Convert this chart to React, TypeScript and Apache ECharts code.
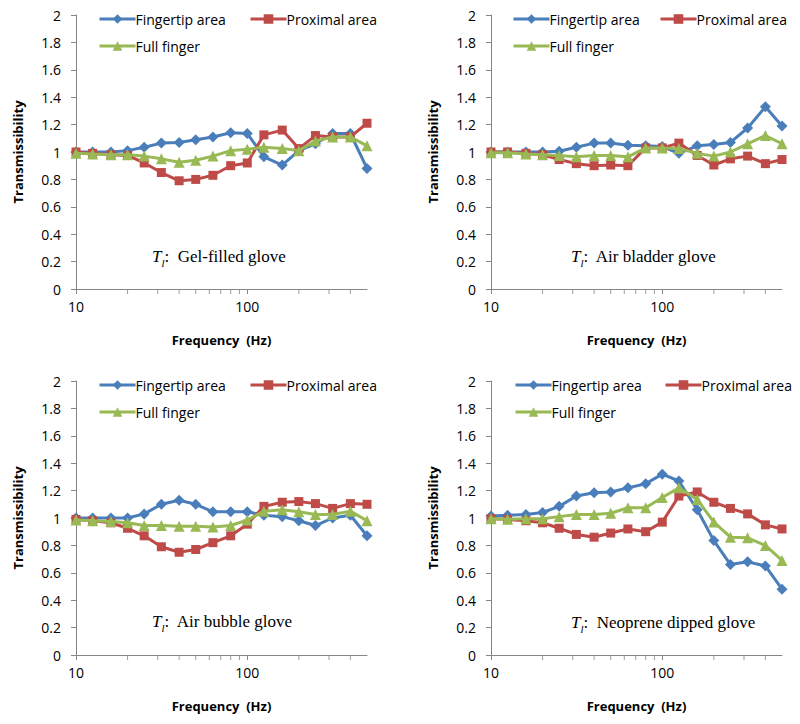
import React, { useEffect, useRef } from 'react';
import * as echarts from 'echarts';

const freqs = [10, 12.5, 16, 20, 25, 31.5, 40, 50, 63, 80, 100, 125, 160, 200, 250, 315, 400, 500];
const minorTickFreqs = [20, 30, 40, 50, 60, 70, 80, 90, 200, 300, 400];
const seriesNames = ['Fingertip area', 'Proximal area', 'Full finger'];
const gloveNames = ['Gel-filled glove', 'Air bladder glove', 'Air bubble glove', 'Neoprene dipped glove'];
const yTicks = [0, 0.2, 0.4, 0.6, 0.8, 1, 1.2, 1.4, 1.6, 1.8, 2];

const gelFingertip = [1.0, 1.0, 1.0, 1.01, 1.035, 1.065, 1.07, 1.09, 1.11, 1.14, 1.135, 0.965, 0.905, 1.01, 1.06, 1.135, 1.135, 0.88];
const gelProximal = [1.0, 0.99, 0.98, 0.975, 0.92, 0.85, 0.79, 0.8, 0.83, 0.9, 0.92, 1.125, 1.16, 1.025, 1.12, 1.11, 1.11, 1.21];
const gelFull = [0.99, 0.985, 0.98, 0.98, 0.97, 0.95, 0.925, 0.94, 0.97, 1.01, 1.02, 1.035, 1.025, 1.01, 1.08, 1.11, 1.11, 1.045];

const bladderFingertip = [1.0, 1.0, 1.0, 1.0, 1.005, 1.035, 1.065, 1.065, 1.05, 1.045, 1.04, 0.99, 1.045, 1.055, 1.07, 1.175, 1.33, 1.19];
const bladderProximal = [1.0, 1.0, 0.99, 0.98, 0.945, 0.915, 0.9, 0.905, 0.9, 1.03, 1.03, 1.065, 0.975, 0.905, 0.95, 0.97, 0.915, 0.945];
const bladderFull = [0.995, 0.995, 0.985, 0.98, 0.975, 0.965, 0.975, 0.975, 0.965, 1.03, 1.03, 1.025, 0.99, 0.97, 1.0, 1.06, 1.12, 1.06];

const bubbleFingertip = [1.0, 1.0, 1.0, 1.0, 1.03, 1.1, 1.13, 1.1, 1.045, 1.045, 1.045, 1.02, 1.01, 0.98, 0.945, 1.0, 1.02, 0.87];
const bubbleProximal = [0.99, 0.98, 0.965, 0.925, 0.87, 0.79, 0.75, 0.77, 0.82, 0.87, 0.955, 1.085, 1.115, 1.12, 1.105, 1.07, 1.105, 1.1];
const bubbleFull = [0.985, 0.98, 0.975, 0.965, 0.945, 0.945, 0.94, 0.94, 0.935, 0.945, 0.985, 1.05, 1.06, 1.045, 1.025, 1.025, 1.05, 0.98];

const neopreneFingertip = [1.015, 1.02, 1.025, 1.04, 1.085, 1.16, 1.185, 1.19, 1.22, 1.25, 1.32, 1.27, 1.06, 0.835, 0.66, 0.68, 0.65, 0.48];
const neopreneProximal = [0.995, 0.99, 0.98, 0.965, 0.925, 0.88, 0.86, 0.89, 0.92, 0.9, 0.97, 1.16, 1.19, 1.115, 1.07, 1.03, 0.95, 0.92];
const neopreneFull = [0.995, 0.99, 0.995, 0.995, 1.01, 1.025, 1.025, 1.035, 1.075, 1.075, 1.15, 1.22, 1.135, 0.97, 0.86, 0.855, 0.8, 0.69];

const panelData = [
  [gelFingertip, gelProximal, gelFull],
  [bladderFingertip, bladderProximal, bladderFull],
  [bubbleFingertip, bubbleProximal, bubbleFull],
  [neopreneFingertip, neopreneProximal, neopreneFull],
];

const colors = ['#4A7EBB', '#BE4B48', '#98B954'];
const symbols = ['diamond', 'rect', 'triangle'];
const symbolSizes = [11, 9, 11];

const grids = [
  { left: 76, top: 15, width: 291, height: 274 },
  { left: 491, top: 15, width: 291, height: 274 },
  { left: 76, top: 381, width: 291, height: 274 },
  { left: 491, top: 381, width: 291, height: 274 },
];
const legendPos = [
  [[98, 20], [249, 20], [98, 47]],
  [[512, 20], [659, 20], [512, 47]],
  [[98, 386], [249, 386], [98, 413]],
  [[514, 386], [664, 386], [514, 413]],
];
const notePos = [[152, 256], [571, 256], [152, 621], [571, 622]];

const AXIS_COLOR = '#868686';
const SANS = 'Open Sans';

export default function App() {
  const ref = useRef<HTMLDivElement>(null);
  useEffect(() => {
    if (!ref.current) return;
    const chart = echarts.init(ref.current, null, { renderer: 'svg' });
    const xAxis: any[] = [];
    const yAxis: any[] = [];
    const series: any[] = [];
    const legend: any[] = [];
    const graphic: any[] = [];
    grids.forEach((g, i) => {
      xAxis.push({
        type: 'log',
        logBase: 10,
        gridIndex: i,
        min: 10,
        max: 500,
        name: 'Frequency  (Hz)',
        nameLocation: 'middle',
        nameGap: 44,
        nameTextStyle: { fontFamily: SANS, fontWeight: 'bold', fontSize: 13, color: '#000' },
        axisLine: { lineStyle: { color: AXIS_COLOR, width: 1 } },
        axisTick: { show: true, length: 5, lineStyle: { color: AXIS_COLOR } },
        axisLabel: { showMaxLabel: false, margin: 10, fontFamily: SANS, fontSize: 14, color: '#000' },
        splitLine: { show: false },
      });
      yAxis.push({
        type: 'value',
        gridIndex: i,
        min: yTicks[0],
        max: yTicks[yTicks.length - 1],
        interval: 0.2,
        name: 'Transmissibility',
        nameLocation: 'middle',
        nameGap: 52,
        nameTextStyle: { fontFamily: SANS, fontWeight: 'bold', fontSize: 13, color: '#000' },
        axisLine: { show: true, lineStyle: { color: AXIS_COLOR, width: 1 } },
        axisTick: { show: true, length: 5, lineStyle: { color: AXIS_COLOR } },
        axisLabel: { margin: 15, fontFamily: SANS, fontSize: 14, color: '#000' },
        splitLine: { show: false },
      });
      series.push({
        type: 'scatter',
        name: 'minor-ticks-' + i,
        xAxisIndex: i,
        yAxisIndex: i,
        data: minorTickFreqs.map((f) => [f, 0]),
        symbol: 'rect',
        symbolSize: [1, 5],
        symbolOffset: [0, 2.5],
        itemStyle: { color: AXIS_COLOR },
        silent: true,
        clip: false,
        z: 1,
      });
      panelData[i].forEach((vals, j) => {
        series.push({
          type: 'line',
          name: seriesNames[j],
          xAxisIndex: i,
          yAxisIndex: i,
          data: freqs.map((f, k) => [f, vals[k]]),
          symbol: symbols[j],
          symbolSize: symbolSizes[j],
          showAllSymbol: true,
          lineStyle: { color: colors[j], width: 3 },
          itemStyle: { color: colors[j] },
          z: 3 + j,
        });
        const [lx, ly] = legendPos[i][j];
        legend.push({
          data: [seriesNames[j]],
          left: lx,
          top: ly - 8,
          padding: 0,
          itemWidth: 36,
          itemHeight: 12,
          itemGap: 0,
          selectedMode: false,
          lineStyle: { width: 3 },
          textStyle: { fontFamily: SANS, fontSize: 14, color: '#000', padding: [0, 0, 0, -5] },
        });
      });
      const [nx, ny] = notePos[i];
      graphic.push({
        type: 'text',
        x: nx,
        y: ny,
        style: {
          text: '{t|T}{s|l}{n|:  ' + gloveNames[i] + '}',
          verticalAlign: 'middle',
          align: 'left',
          fill: '#000',
          rich: {
            t: { fontFamily: 'Liberation Serif', fontStyle: 'italic', fontSize: 17, color: '#000', verticalAlign: 'middle', lineHeight: 24 },
            s: { fontFamily: 'Liberation Serif', fontStyle: 'italic', fontSize: 11, color: '#000', verticalAlign: 'bottom', lineHeight: 24 },
            n: { fontFamily: 'Liberation Serif', fontSize: 17, color: '#000', verticalAlign: 'middle', lineHeight: 24 },
          },
        },
      });
    });
    chart.setOption({
      animation: false,
      backgroundColor: '#fff',
      grid: grids.map((g) => ({ ...g, containLabel: false })),
      xAxis,
      yAxis,
      series,
      legend,
      graphic,
    });
    return () => chart.dispose();
  }, []);
  return (
    <div
      ref={ref}
      style={{ position: 'absolute', left: 0, top: 0, width: 800, height: 724, background: '#fff' }}
    />
  );
}
